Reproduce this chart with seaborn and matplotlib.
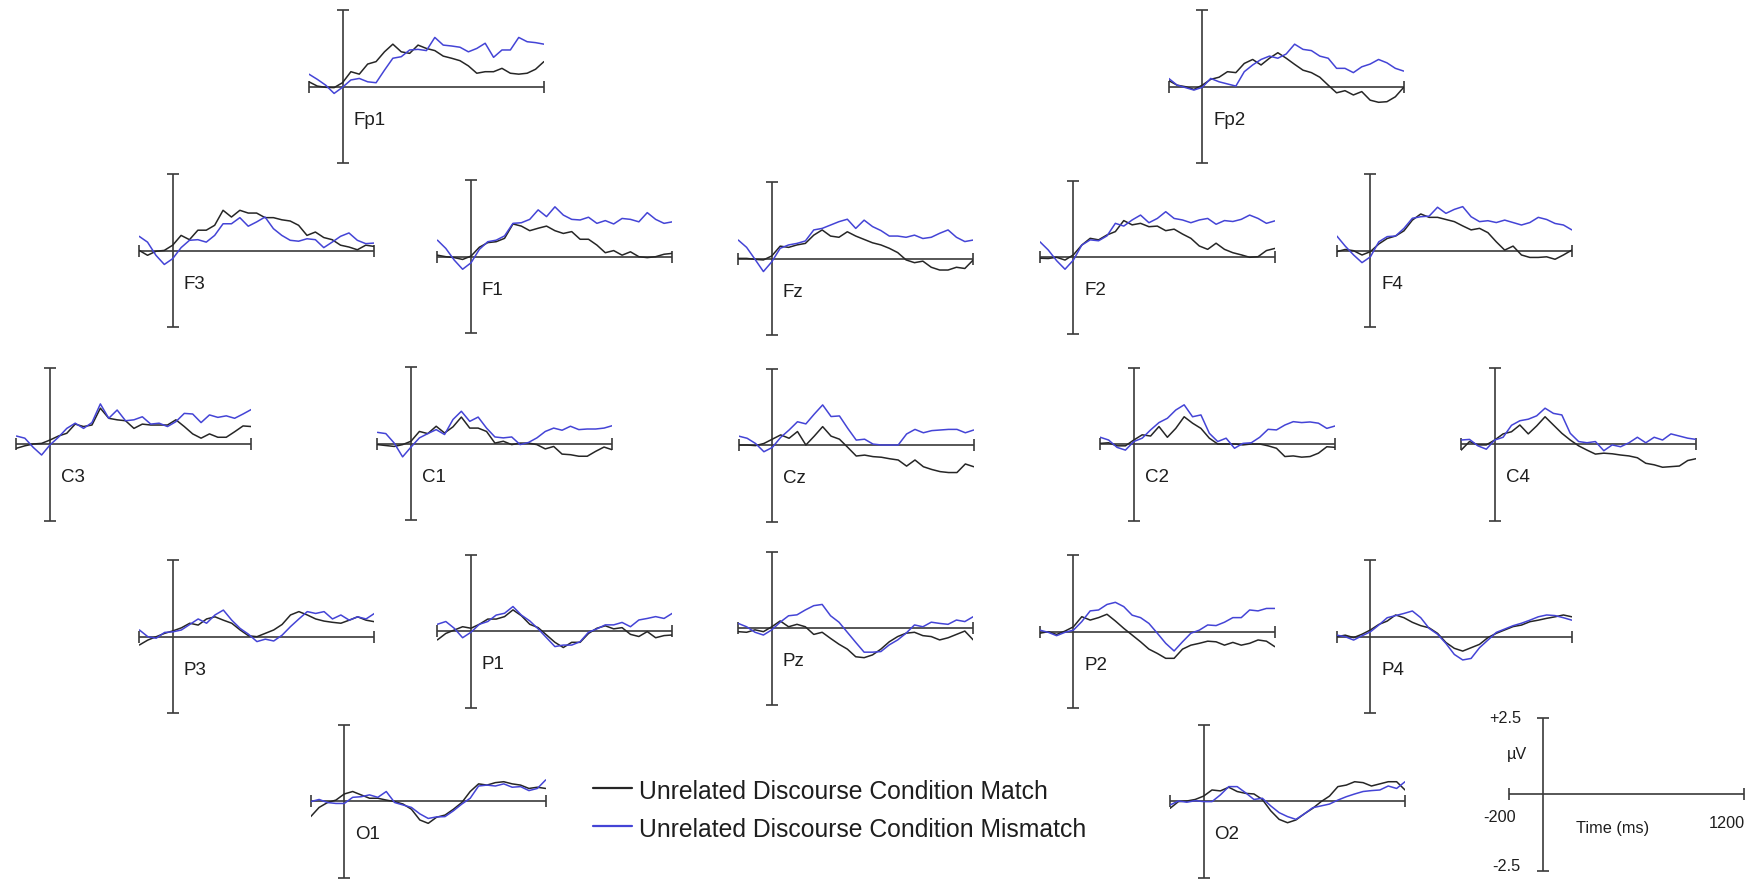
import matplotlib
matplotlib.use("Agg")
import matplotlib.pyplot as plt
from matplotlib.lines import Line2D
import seaborn as sns
import pandas as pd

# Sampling times of the grand-average waveforms (ms)
TIMES_MS = [-200, -150, -100, -50, 0, 50, 100, 150, 200, 250, 300, 350, 400, 450,
            500, 550, 600, 650, 700, 750, 800, 850, 900, 950, 1000, 1050, 1100, 1150, 1200]

# Amplitudes (µV), one list per electrode and condition
FP1_MATCH = [0.16, 0.02, -0.02, -0.03, 0.13, 0.49, 0.41, 0.74, 0.82, 1.14, 1.39, 1.14, 1.09, 1.36,
             1.25, 1.18, 1.00, 0.93, 0.85, 0.68, 0.44, 0.49, 0.49, 0.60, 0.44, 0.41, 0.44, 0.57, 0.82]
FP1_MISMATCH = [0.41, 0.24, 0.05, -0.22, -0.02, 0.22, 0.27, 0.16, 0.13, 0.54, 0.93, 0.98, 1.20, 1.22,
                1.18, 1.61, 1.36, 1.33, 1.29, 1.14, 1.25, 1.42, 0.96, 1.20, 1.20, 1.61, 1.47, 1.44, 1.39]

FP2_MATCH = [0.20, 0.05, 0.00, -0.09, 0.05, 0.24, 0.31, 0.49, 0.46, 0.76, 0.89, 0.71, 0.93, 1.11,
             0.93, 0.73, 0.54, 0.46, 0.31, 0.05, -0.20, -0.13, -0.27, -0.16, -0.44, -0.51, -0.49, -0.33, -0.02]
FP2_MISMATCH = [0.27, 0.05, -0.03, -0.11, -0.02, 0.27, 0.16, 0.09, 0.02, 0.49, 0.71, 0.89, 1.00, 0.93,
                1.07, 1.39, 1.22, 1.18, 1.00, 0.93, 0.60, 0.60, 0.46, 0.65, 0.74, 0.89, 0.78, 0.60, 0.51]

F3_MATCH = [0.02, -0.14, -0.01, 0.02, 0.19, 0.51, 0.37, 0.68, 0.68, 0.84, 1.33, 1.11, 1.33, 1.24,
            1.24, 1.09, 1.09, 1.02, 0.98, 0.84, 0.51, 0.62, 0.44, 0.37, 0.19, 0.13, 0.04, 0.19, 0.15]
F3_MISMATCH = [0.48, 0.29, -0.14, -0.44, -0.25, 0.11, 0.35, 0.37, 0.29, 0.51, 0.89, 0.89, 1.09, 0.81,
               0.95, 1.11, 0.73, 0.51, 0.35, 0.32, 0.40, 0.37, 0.11, 0.29, 0.48, 0.59, 0.35, 0.24, 0.26]

F1_MATCH = [0.05, 0.00, -0.03, -0.09, 0.02, 0.31, 0.46, 0.49, 0.60, 1.07, 1.00, 0.85, 0.93, 1.00,
            0.85, 0.76, 0.82, 0.57, 0.57, 0.38, 0.13, 0.20, 0.05, 0.16, 0.00, -0.03, 0.00, 0.08, 0.11]
F1_MISMATCH = [0.54, 0.27, -0.11, -0.41, -0.20, 0.24, 0.49, 0.54, 0.68, 1.09, 1.11, 1.22, 1.53, 1.31,
               1.63, 1.36, 1.22, 1.20, 1.29, 1.09, 1.18, 1.07, 1.25, 1.22, 1.14, 1.44, 1.22, 1.09, 1.14]

FZ_MATCH = [0.01, 0.01, -0.02, -0.04, 0.09, 0.41, 0.37, 0.45, 0.50, 0.77, 0.94, 0.74, 0.70, 0.88,
            0.74, 0.63, 0.52, 0.45, 0.34, 0.20, -0.04, -0.13, -0.08, -0.28, -0.37, -0.37, -0.28, -0.32, -0.04]
FZ_MISMATCH = [0.61, 0.37, -0.02, -0.42, -0.10, 0.34, 0.45, 0.50, 0.58, 0.94, 0.99, 1.10, 1.21, 1.29,
               0.99, 1.26, 1.05, 0.92, 0.74, 0.74, 0.70, 0.77, 0.66, 0.70, 0.83, 0.94, 0.70, 0.56, 0.61]

F2_MATCH = [-0.03, -0.04, 0.00, -0.09, 0.08, 0.40, 0.62, 0.57, 0.73, 0.84, 1.20, 1.06, 1.11, 1.00,
            1.02, 0.87, 0.92, 0.76, 0.62, 0.37, 0.26, 0.46, 0.26, 0.15, 0.08, 0.00, 0.02, 0.22, 0.29]
F2_MISMATCH = [0.51, 0.24, -0.11, -0.39, -0.09, 0.40, 0.57, 0.54, 0.70, 1.11, 1.02, 1.22, 1.38, 1.13,
               1.27, 1.49, 1.27, 1.22, 1.13, 1.22, 1.27, 1.08, 1.20, 1.17, 1.24, 1.38, 1.27, 1.11, 1.19]

F4_MATCH = [-0.03, 0.04, 0.00, -0.14, -0.03, 0.22, 0.40, 0.48, 0.65, 1.00, 1.20, 1.09, 1.09, 1.02,
            0.95, 0.81, 0.68, 0.73, 0.59, 0.29, 0.02, 0.15, -0.14, -0.22, -0.22, -0.20, -0.28, -0.14, 0.02]
F4_MISMATCH = [0.48, 0.15, -0.14, -0.39, -0.20, 0.29, 0.46, 0.48, 0.73, 1.06, 1.11, 1.13, 1.42, 1.22,
               1.35, 1.44, 1.11, 0.95, 0.98, 0.92, 1.00, 0.92, 0.84, 0.92, 1.09, 1.02, 0.89, 0.84, 0.68]

C3_MATCH = [-0.13, -0.05, 0.01, 0.03, 0.14, 0.27, 0.36, 0.66, 0.58, 0.63, 1.18, 0.85, 0.80, 0.77,
            0.52, 0.66, 0.63, 0.63, 0.63, 0.80, 0.58, 0.34, 0.20, 0.34, 0.23, 0.23, 0.41, 0.60, 0.58]
C3_MISMATCH = [0.27, 0.20, -0.10, -0.35, -0.02, 0.23, 0.52, 0.69, 0.52, 0.71, 1.32, 0.85, 1.12, 0.77,
               0.80, 0.90, 0.66, 0.69, 0.58, 0.74, 1.01, 0.99, 0.71, 0.96, 0.88, 0.93, 0.85, 0.99, 1.14]

C1_MATCH = [-0.02, -0.05, -0.08, -0.02, 0.09, 0.41, 0.34, 0.58, 0.36, 0.56, 0.88, 0.52, 0.52, 0.41,
            0.03, 0.09, -0.02, 0.03, 0.03, -0.02, -0.16, -0.08, -0.33, -0.35, -0.40, -0.40, -0.24, -0.10, -0.19]
C1_MISMATCH = [0.38, 0.34, 0.03, -0.42, -0.10, 0.20, 0.34, 0.47, 0.31, 0.80, 1.07, 0.74, 0.88, 0.52,
               0.23, 0.20, 0.23, -0.02, 0.05, 0.20, 0.41, 0.52, 0.45, 0.58, 0.47, 0.49, 0.49, 0.52, 0.60]

CZ_MATCH = [0.00, 0.00, -0.02, 0.05, 0.19, 0.33, 0.22, 0.44, 0.00, 0.29, 0.60, 0.29, 0.19, -0.08,
            -0.36, -0.33, -0.38, -0.40, -0.45, -0.49, -0.69, -0.49, -0.71, -0.80, -0.87, -0.90, -0.90, -0.62, -0.71]
CZ_MISMATCH = [0.29, 0.22, 0.05, -0.22, -0.08, 0.25, 0.49, 0.76, 0.69, 1.01, 1.31, 0.93, 0.95, 0.54,
               0.16, 0.19, 0.03, 0.00, 0.00, 0.00, 0.36, 0.51, 0.40, 0.47, 0.49, 0.51, 0.51, 0.40, 0.49]

C2_MATCH = [0.03, 0.05, -0.05, -0.05, 0.14, 0.31, 0.27, 0.58, 0.23, 0.52, 0.90, 0.69, 0.52, 0.20,
            0.01, 0.01, 0.01, -0.02, 0.01, 0.01, -0.05, -0.13, -0.40, -0.38, -0.42, -0.40, -0.29, -0.08, -0.10]
C2_MISMATCH = [0.23, 0.14, -0.10, -0.19, 0.09, 0.20, 0.47, 0.71, 0.85, 1.12, 1.29, 0.90, 0.96, 0.36,
               0.09, 0.20, -0.13, 0.03, 0.05, 0.23, 0.49, 0.47, 0.63, 0.74, 0.71, 0.73, 0.69, 0.52, 0.60]

C4_MATCH = [-0.19, 0.09, -0.02, -0.02, 0.14, 0.34, 0.41, 0.63, 0.34, 0.60, 0.90, 0.63, 0.36, 0.14,
            -0.05, -0.19, -0.32, -0.29, -0.31, -0.35, -0.38, -0.44, -0.62, -0.67, -0.75, -0.73, -0.71, -0.53, -0.47]
C4_MISMATCH = [0.14, 0.16, -0.05, -0.16, 0.14, 0.23, 0.62, 0.77, 0.82, 0.93, 1.18, 1.01, 0.96, 0.36,
               0.09, 0.05, 0.09, -0.21, -0.02, -0.08, 0.05, 0.23, 0.05, 0.23, 0.14, 0.34, 0.27, 0.20, 0.16]

P3_MATCH = [-0.27, -0.11, 0.00, 0.11, 0.19, 0.29, 0.44, 0.38, 0.58, 0.65, 0.54, 0.44, 0.22, 0.03,
            0.00, 0.11, 0.22, 0.40, 0.71, 0.82, 0.71, 0.58, 0.51, 0.47, 0.44, 0.54, 0.65, 0.54, 0.49]
P3_MISMATCH = [0.22, 0.00, -0.05, 0.14, 0.16, 0.22, 0.40, 0.58, 0.44, 0.71, 0.87, 0.54, 0.27, 0.08,
               -0.16, -0.08, -0.14, 0.05, 0.33, 0.58, 0.82, 0.76, 0.82, 0.58, 0.71, 0.54, 0.65, 0.58, 0.76]

P1_MATCH = [-0.29, -0.08, 0.03, 0.14, 0.09, 0.22, 0.39, 0.39, 0.47, 0.69, 0.50, 0.22, 0.11, -0.13,
            -0.37, -0.54, -0.37, -0.37, -0.08, 0.09, 0.17, 0.07, 0.11, -0.11, -0.18, -0.02, -0.22, -0.15, -0.13]
P1_MISMATCH = [0.22, 0.31, 0.09, -0.22, -0.04, 0.22, 0.31, 0.52, 0.58, 0.80, 0.52, 0.33, 0.07, -0.22,
               -0.51, -0.46, -0.46, -0.35, -0.04, 0.07, 0.20, 0.20, 0.28, 0.14, 0.36, 0.41, 0.47, 0.41, 0.58]

PZ_MATCH = [-0.11, -0.13, -0.05, -0.11, 0.05, 0.24, 0.05, 0.13, 0.05, -0.20, -0.13, -0.33, -0.52, -0.68,
            -0.93, -0.96, -0.87, -0.68, -0.44, -0.27, -0.16, -0.13, -0.24, -0.27, -0.38, -0.31, -0.20, -0.09, -0.38]
PZ_MISMATCH = [0.16, 0.05, -0.13, -0.22, -0.05, 0.20, 0.41, 0.44, 0.60, 0.74, 0.78, 0.41, 0.20, -0.13,
               -0.46, -0.78, -0.78, -0.76, -0.54, -0.38, -0.16, 0.11, 0.05, 0.20, 0.16, 0.13, 0.27, 0.22, 0.38]

P2_MATCH = [-0.05, 0.00, -0.09, 0.02, 0.16, 0.49, 0.38, 0.46, 0.57, 0.35, 0.11, -0.11, -0.33, -0.57,
            -0.71, -0.87, -0.87, -0.57, -0.44, -0.38, -0.31, -0.33, -0.44, -0.35, -0.44, -0.38, -0.27, -0.31, -0.49]
P2_MISMATCH = [0.05, -0.02, -0.13, -0.02, 0.05, 0.33, 0.68, 0.71, 0.89, 0.96, 0.82, 0.54, 0.46, 0.27,
               -0.05, -0.38, -0.63, -0.33, -0.05, 0.05, 0.22, 0.20, 0.31, 0.46, 0.46, 0.71, 0.68, 0.76, 0.76]

P4_MATCH = [0.00, 0.05, -0.03, 0.08, 0.22, 0.40, 0.51, 0.71, 0.62, 0.47, 0.36, 0.29, 0.11, -0.19,
            -0.38, -0.47, -0.36, -0.25, -0.03, 0.11, 0.22, 0.33, 0.38, 0.49, 0.54, 0.60, 0.65, 0.71, 0.65]
P4_MISMATCH = [0.05, 0.00, -0.11, 0.03, 0.16, 0.38, 0.62, 0.69, 0.76, 0.84, 0.62, 0.27, 0.08, -0.22,
               -0.58, -0.76, -0.71, -0.36, -0.11, 0.14, 0.25, 0.36, 0.44, 0.54, 0.65, 0.71, 0.69, 0.62, 0.54]

O1_MATCH = [-0.51, -0.21, -0.05, 0.03, 0.23, 0.31, 0.20, 0.09, 0.09, 0.03, -0.02, -0.10, -0.27, -0.62,
            -0.73, -0.53, -0.46, -0.27, -0.05, 0.31, 0.56, 0.52, 0.60, 0.63, 0.56, 0.52, 0.41, 0.45, 0.41]
O1_MISMATCH = [-0.02, 0.05, -0.05, -0.08, -0.08, 0.12, 0.14, 0.20, 0.12, 0.31, -0.05, -0.13, -0.21, -0.42,
               -0.57, -0.52, -0.51, -0.32, -0.10, 0.09, 0.49, 0.52, 0.49, 0.56, 0.45, 0.47, 0.34, 0.41, 0.69]

O2_MATCH = [-0.24, -0.02, 0.00, 0.05, 0.16, 0.36, 0.33, 0.45, 0.31, 0.25, 0.23, 0.05, -0.32, -0.60,
            -0.71, -0.62, -0.42, -0.24, -0.02, 0.16, 0.47, 0.52, 0.63, 0.60, 0.49, 0.56, 0.63, 0.63, 0.36]
O2_MISMATCH = [-0.13, 0.00, -0.04, 0.01, -0.02, -0.02, 0.20, 0.47, 0.47, 0.27, 0.05, 0.09, -0.16, -0.38,
               -0.51, -0.60, -0.42, -0.22, -0.16, -0.10, 0.03, 0.14, 0.23, 0.31, 0.34, 0.36, 0.49, 0.41, 0.63]

ELECTRODES = ["Fp1", "Fp2", "F3", "F1", "Fz", "F2", "F4", "C3", "C1", "Cz", "C2", "C4",
              "P3", "P1", "Pz", "P2", "P4", "O1", "O2"]
CONDITIONS = ["Unrelated Discourse Condition Match", "Unrelated Discourse Condition Mismatch"]

WAVES = {
    "Fp1": (FP1_MATCH, FP1_MISMATCH), "Fp2": (FP2_MATCH, FP2_MISMATCH),
    "F3": (F3_MATCH, F3_MISMATCH), "F1": (F1_MATCH, F1_MISMATCH), "Fz": (FZ_MATCH, FZ_MISMATCH),
    "F2": (F2_MATCH, F2_MISMATCH), "F4": (F4_MATCH, F4_MISMATCH),
    "C3": (C3_MATCH, C3_MISMATCH), "C1": (C1_MATCH, C1_MISMATCH), "Cz": (CZ_MATCH, CZ_MISMATCH),
    "C2": (C2_MATCH, C2_MISMATCH), "C4": (C4_MATCH, C4_MISMATCH),
    "P3": (P3_MATCH, P3_MISMATCH), "P1": (P1_MATCH, P1_MISMATCH), "Pz": (PZ_MATCH, PZ_MISMATCH),
    "P2": (P2_MATCH, P2_MISMATCH), "P4": (P4_MATCH, P4_MISMATCH),
    "O1": (O1_MATCH, O1_MISMATCH), "O2": (O2_MATCH, O2_MISMATCH),
}

# Montage layout: pixel position of each panel's origin (t = 0 ms, 0 µV)
PANEL_ORIGIN_PX = {
    "Fp1": (342.5, 86.7), "Fp2": (1202.3, 86.7),
    "F3": (172.7, 251.0), "F1": (471.0, 256.7), "Fz": (771.8, 258.7), "F2": (1073.4, 257.3), "F4": (1370.4, 250.7),
    "C3": (50.0, 444.3), "C1": (411.0, 444.0), "Cz": (772.3, 445.0), "C2": (1133.8, 444.3), "C4": (1494.7, 444.3),
    "P3": (173.0, 636.7), "P1": (471.0, 631.0), "Pz": (771.8, 628.3), "P2": (1073.4, 631.7), "P4": (1370.4, 636.7),
    "O1": (344.3, 801.0), "O2": (1203.6, 801.0),
}
SCALE_ORIGIN_PX = (1543.0, 794.3)

T_MIN, T_MAX = -200, 1200
V_MIN, V_MAX = -2.5, 2.5

FIG_W, FIG_H = 1760, 880
PANEL_W_PX = 235.0
PANEL_H_PX = 153.0
PX_PER_MS = PANEL_W_PX / (T_MAX - T_MIN)
PX_PER_UV = PANEL_H_PX / (V_MAX - V_MIN)

MATCH_COLOR = "#262626"
MISMATCH_COLOR = "#4444d6"
AXIS_COLOR = "#3a3a3a"
TEXT_COLOR = "#1e1e1e"

sns.set_theme(style="white")
plt.rcParams["font.family"] = ["Liberation Sans", "DejaVu Sans"]

fig = plt.figure(figsize=(FIG_W / 100, FIG_H / 100), dpi=100)
fig.patch.set_facecolor("white")


def add_panel(origin_px):
    ox, oy = origin_px
    left_px = ox - (0 - T_MIN) * PX_PER_MS
    top_px = oy - V_MAX * PX_PER_UV
    ax = fig.add_axes([left_px / FIG_W, 1 - (top_px + PANEL_H_PX) / FIG_H,
                       PANEL_W_PX / FIG_W, PANEL_H_PX / FIG_H])
    ax.set_xlim(T_MIN, T_MAX)
    ax.set_ylim(V_MIN, V_MAX)
    ax.axis("off")
    return ax


def draw_axes_cross(ax):
    cap_t = 6.0 / PX_PER_MS
    cap_v = 6.0 / PX_PER_UV
    kw = dict(color=AXIS_COLOR, lw=1.2, solid_capstyle="butt", clip_on=False, zorder=1)
    ax.plot([T_MIN, T_MAX], [0, 0], **kw)
    ax.plot([0, 0], [V_MIN, V_MAX], **kw)
    for v in (V_MIN, V_MAX):
        ax.plot([-cap_t, cap_t], [v, v], **kw)
    for t in (T_MIN, T_MAX):
        ax.plot([t, t], [-cap_v, cap_v], **kw)


palette = {CONDITIONS[0]: MATCH_COLOR, CONDITIONS[1]: MISMATCH_COLOR}

for name in ELECTRODES:
    match, mismatch = WAVES[name]
    df = pd.DataFrame({
        "time": TIMES_MS + TIMES_MS,
        "uV": list(match) + list(mismatch),
        "condition": [CONDITIONS[0]] * len(TIMES_MS) + [CONDITIONS[1]] * len(TIMES_MS),
    })
    ax = add_panel(PANEL_ORIGIN_PX[name])
    draw_axes_cross(ax)
    sns.lineplot(data=df, x="time", y="uV", hue="condition", hue_order=CONDITIONS,
                 palette=palette, estimator=None, sort=False, linewidth=1.1,
                 legend=False, ax=ax, zorder=3)
    ax.set_xlim(T_MIN, T_MAX)
    ax.set_ylim(V_MIN, V_MAX)
    ax.axis("off")
    ax.text(65, -38.0 / PX_PER_UV, name, fontsize=13.5, color=TEXT_COLOR,
            ha="left", va="baseline")

# Calibration cross
scale_ax = add_panel(SCALE_ORIGIN_PX)
draw_axes_cross(scale_ax)


def fig_text(x_px, y_px, s, **kw):
    fig.text(x_px / FIG_W, 1 - y_px / FIG_H, s, color=TEXT_COLOR, **kw)


fig_text(1521, 718, "+2.5", fontsize=11.7, ha="right", va="center")
fig_text(1517, 755, "µV", fontsize=11.7, ha="center", va="center")
fig_text(1500, 817, "-200", fontsize=11.7, ha="center", va="center")
fig_text(1613, 828, "Time (ms)", fontsize=11.7, ha="center", va="center")
fig_text(1727, 823, "1200", fontsize=11.7, ha="center", va="center")
fig_text(1520, 866, "-2.5", fontsize=11.7, ha="right", va="center")

# Condition key
for cond, y_line, y_base in ((CONDITIONS[0], 788.3, 799.3), (CONDITIONS[1], 825.7, 836.7)):
    fig.add_artist(Line2D([593 / FIG_W, 632 / FIG_W], [1 - y_line / FIG_H, 1 - y_line / FIG_H],
                          color=palette[cond], lw=1.6, transform=fig.transFigure))
    fig_text(639, y_base, cond, fontsize=17.8, ha="left", va="baseline")

fig.savefig("out.png", dpi=100, facecolor="white")
